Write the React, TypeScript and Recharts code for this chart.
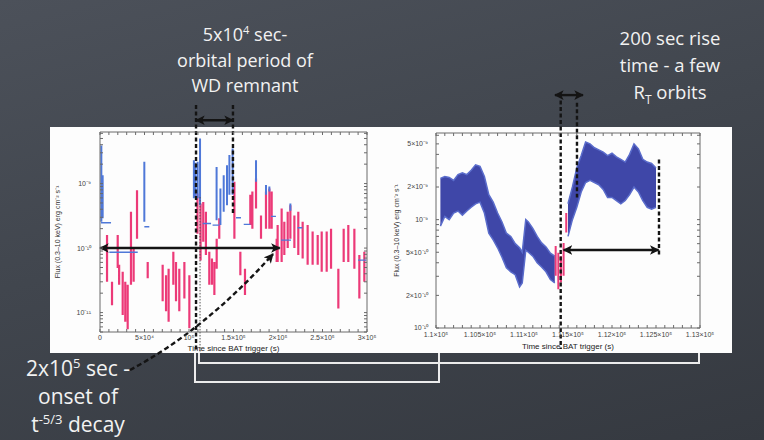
import React from 'react';
import { ComposedChart, Line, Area, XAxis, YAxis, ReferenceLine } from 'recharts';

type Seg = [number, number, number];

// Left panel: long-term XRT light curve. Vertical bars are [t, low, high].
const leftPinkBars: Seg[] = [
  [7900, 3.0e-11, 1.59e-10], [13500, 1.3e-11, 3.0e-11], [19900, 4.9e-11, 1.59e-10],
  [21500, 2.7e-11, 5.5e-11], [25500, 9.2e-12, 4.3e-11], [28400, 7.2e-12, 3.0e-11],
  [31100, 5.5e-12, 2.7e-11], [34800, 2.7e-11, 3.65e-10], [37800, 3.0e-11, 1.0e-10],
  [41600, 1.4e-10, 7.9e-10], [53600, 3.4e-11, 6.1e-11], [70400, 1.5e-11, 5.5e-11],
  [74200, 1.05e-11, 3.8e-11], [77100, 7.2e-12, 4.8e-11], [82400, 2.7e-11, 8.8e-11],
  [85400, 1.5e-11, 6.1e-11], [89100, 1.05e-11, 4.8e-11], [94800, 1.66e-11, 6.1e-11],
  [100400, 5.7e-12, 3.8e-11], [109500, 1.67e-10, 7.0e-10], [113000, 6.4e-11, 4.9e-10],
  [116000, 1.25e-10, 5.2e-10], [119000, 7.8e-11, 3.65e-10], [122800, 2.7e-11, 8.8e-11],
  [125800, 2.7e-11, 6.9e-11], [128500, 1.87e-11, 6.1e-11], [131100, 4.8e-11, 1.4e-10],
  [134000, 1.4e-10, 2.9e-10], [151000, 1.4e-10, 1.07e-9], [157700, 3.8e-11, 8.8e-11],
  [162900, 1.87e-11, 4.8e-11], [168900, 2.27e-10, 6.7e-10], [171200, 2.0e-10, 7.5e-10],
  [175300, 4.1e-10, 1.2e-9], [180900, 1.4e-10, 3.2e-10], [186500, 2.0e-10, 7.5e-10],
  [190300, 2.0e-10, 8.4e-10], [192900, 2.0e-10, 7.5e-10], [198500, 6.1e-11, 1.4e-10],
  [199600, 6.1e-11, 2.27e-10], [204100, 6.1e-11, 4.1e-10], [207100, 7.8e-11, 2.56e-10],
  [210900, 1.0e-10, 3.65e-10], [213900, 1.4e-10, 4.6e-10], [218400, 1.0e-10, 3.2e-10],
  [222800, 7.8e-11, 3.65e-10], [227700, 6.9e-11, 2.56e-10], [233300, 5.5e-11, 2.27e-10],
  [238900, 5.5e-11, 1.8e-10], [244600, 5.5e-11, 1.59e-10], [249100, 4.3e-11, 1.8e-10],
  [254700, 4.3e-11, 1.8e-10], [259600, 4.8e-11, 2.0e-10], [267800, 1.16e-11, 4.8e-11],
  [273800, 6.1e-11, 2.0e-10], [279000, 6.1e-11, 2.27e-10], [285800, 4.8e-11, 2.0e-10],
  [291400, 1.66e-11, 7.8e-11], [297000, 3.0e-11, 8.8e-11],
];

const leftBlueBars: Seg[] = [
  [1500, 2.56e-10, 3.9e-9], [3000, 2.9e-10, 1.35e-9], [49800, 2.56e-10, 2.18e-9],
  [105500, 5.9e-10, 2.3e-9], [107000, 6.2e-10, 2.1e-9], [109700, 5.9e-10, 2.18e-9],
  [112400, 4.6e-10, 5.0e-9], [131000, 2.7e-10, 1.8e-9], [135300, 2.27e-10, 8.4e-10],
  [139000, 3.65e-10, 1.35e-9], [142700, 4.6e-10, 1.93e-9], [145400, 6.7e-10, 2.76e-9],
  [149000, 6.7e-10, 3.5e-9], [175300, 1.07e-9, 2.3e-9], [186500, 6.7e-10, 9.5e-10],
  [190300, 7.5e-10, 9.0e-10], [213900, 3.8e-10, 4.9e-10],
];

// horizontal blue bins: [t start, t end, flux]
const leftBlueBins: Seg[] = [
  [1100, 12400, 2.47e-10], [10500, 42400, 8.6e-11], [49800, 55400, 2.14e-10],
  [115400, 124800, 2.4e-10], [126500, 134000, 2.27e-10], [152800, 158400, 2.95e-10],
  [161500, 168900, 2.33e-10], [192100, 197700, 3.1e-10], [203400, 214600, 1.33e-10],
  [222100, 227300, 2.07e-10], [290000, 299400, 6.5e-11],
];

const leftXTicks = [0, 50000, 100000, 150000, 200000, 250000, 300000];
const leftXLabels = ['0', '5×10⁴', '10⁵', '1.5×10⁵', '2×10⁵', '2.5×10⁵', '3×10⁵'];
const leftYTicks = [1e-11, 1e-10, 1e-9];
const leftYLabels = ['10⁻¹¹', '10⁻¹⁰', '10⁻⁹'];

// Right panel: zoom on the rise, [t, low, high] of the noisy band
const rightBlueEarly: Seg[] = [
  [110050, 8.7e-10, 2.4e-9], [110100, 1.07e-9, 2.5e-9], [110150, 1.0e-9, 2.45e-9],
  [110200, 1.15e-9, 2.3e-9], [110250, 1.2e-9, 2.6e-9], [110300, 1.1e-9, 2.7e-9],
  [110350, 1.2e-9, 2.6e-9], [110400, 1.3e-9, 2.85e-9], [110450, 1.4e-9, 3.2e-9],
  [110500, 1.45e-9, 3.1e-9], [110550, 1.15e-9, 2.5e-9], [110600, 7.5e-10, 1.7e-9],
  [110650, 6.5e-10, 1.45e-9], [110700, 5.5e-10, 1.15e-9], [110750, 4.5e-10, 9.5e-10],
  [110800, 3.6e-10, 7.5e-10], [110850, 3.3e-10, 7.0e-10], [110900, 3.1e-10, 6.0e-10],
  [110950, 2.4e-10, 5.5e-10], [110980, 2.6e-10, 5.0e-10], [111020, 5.2e-10, 1.0e-9],
  [111050, 5.0e-10, 9.5e-10], [111100, 4.6e-10, 8.3e-10], [111150, 4.0e-10, 7.0e-10],
  [111200, 3.65e-10, 6.1e-10], [111250, 3.3e-10, 5.6e-10], [111300, 2.8e-10, 4.9e-10],
  [111350, 2.6e-10, 4.6e-10],
];

const rightBlueLate: Seg[] = [
  [111500, 7.0e-10, 1.4e-9], [111550, 1.0e-9, 2.0e-9], [111600, 1.3e-9, 3.0e-9],
  [111650, 1.8e-9, 3.9e-9], [111700, 2.2e-9, 5.2e-9], [111750, 2.3e-9, 5.0e-9],
  [111800, 2.2e-9, 4.6e-9], [111850, 2.1e-9, 4.4e-9], [111900, 1.9e-9, 4.2e-9],
  [111950, 1.6e-9, 3.9e-9], [112000, 1.6e-9, 4.1e-9], [112050, 1.5e-9, 3.8e-9],
  [112100, 1.4e-9, 3.6e-9], [112150, 1.5e-9, 3.4e-9], [112200, 1.7e-9, 4.0e-9],
  [112250, 2.0e-9, 5.0e-9], [112300, 1.8e-9, 4.5e-9], [112350, 1.5e-9, 3.6e-9],
  [112400, 1.3e-9, 3.4e-9], [112450, 1.25e-9, 3.3e-9], [112500, 1.3e-9, 3.0e-9],
];

const rightPinkBars: Seg[] = [
  [111360, 3.03e-10, 5.7e-10], [111390, 2.28e-10, 4.95e-10], [111420, 2.63e-10, 4.6e-10],
  [111450, 3.03e-10, 6.1e-10], [111480, 7.6e-10, 1.15e-9],
];

const rightXTicks = [110000, 110500, 111000, 111500, 112000, 112500, 113000];
const rightXLabels = ['1.1×10⁵', '1.105×10⁵', '1.11×10⁵', '1.115×10⁵', '1.12×10⁵', '1.125×10⁵', '1.13×10⁵'];
const rightYTicks = [1e-10, 2e-10, 5e-10, 1e-9, 2e-9, 5e-9];
const rightYLabels = ['10⁻¹⁰', '2×10⁻¹⁰', '5×10⁻¹⁰', '10⁻⁹', '2×10⁻⁹', '5×10⁻⁹'];

const PINK = '#ec3a78';
const BLUE = '#4f78d8';
const NAVY = '#3f47a8';
const LIGHT_NAVY = '#5a6ccb';
const INK = '#141414';
const FRAME = '#6a6a6a';
const FONT = '"Liberation Sans", Arial, sans-serif';
const SLIDE_FONT = '"Open Sans", "DejaVu Sans", sans-serif';

const vSegs = (bars: Seg[]) =>
  bars.flatMap(([t, lo, hi]) => [{ t, f: lo }, { t, f: hi }, { t, f: null }]);
const hSegs = (bins: Seg[]) =>
  bins.flatMap(([t0, t1, f]) => [{ t: t0, f }, { t: t1, f }, { t: t1, f: null }]);
const band = (bars: Seg[]) => bars.map(([t, lo, hi]) => ({ t, r: [lo, hi] }));

const logMinors = (lo: number, hi: number) => {
  const out: number[] = [];
  for (let e = Math.floor(Math.log10(lo)); e <= Math.ceil(Math.log10(hi)); e++) {
    for (let m = 1; m <= 9; m++) {
      const v = m * Math.pow(10, e);
      if (v >= lo * 0.999 && v <= hi * 1.001) out.push(v);
    }
  }
  return out;
};
const linMinors = (lo: number, hi: number, step: number) => {
  const out: number[] = [];
  for (let v = lo; v <= hi + 1e-6; v += step) out.push(Math.round(v));
  return out;
};
const fmt = (ticks: number[], labels: string[]) => (v: number) => {
  const i = ticks.findIndex((t) => Math.abs(t - v) <= Math.abs(t) * 1e-6);
  return i < 0 ? '' : labels[i];
};

const noTick = () => <g />;

const dashed = (w: number, dash: string, color = INK) => (p: any) => (
  <line x1={p.x1} y1={p.y1} x2={p.x2} y2={p.y2} stroke={color} strokeWidth={w} strokeDasharray={dash} />
);
const arrow = (p: any) => (
  <line x1={p.x1} y1={p.y1} x2={p.x2} y2={p.y2} stroke={INK} strokeWidth={2.4}
    markerStart="url(#ah)" markerEnd="url(#ah)" />
);
const curvedArrow = (p: any) => {
  const dx = p.x2 - p.x1;
  const dy = p.y2 - p.y1;
  const cx = p.x1 + 0.52 * dx;
  const cy = p.y1 + 0.34 * dy;
  return (
    <path d={`M${p.x1},${p.y1} Q${cx},${cy} ${p.x2},${p.y2}`} fill="none" stroke={INK}
      strokeWidth={2.4} strokeDasharray="5 3" markerEnd="url(#ah)" />
  );
};

const tickStyle = { fontSize: 7, fill: '#444', fontFamily: FONT };
const lineProps = {
  dataKey: 'f', dot: false, activeDot: false, isAnimationActive: false,
  connectNulls: false, legendType: 'none' as const, strokeLinecap: 'butt' as const,
};

function LeftChart() {
  const xDom: [number, number] = [0, 300000];
  const yDom: [number, number] = [5e-12, 6.3e-9];
  const xt = linMinors(0, 300000, 10000);
  const yt = logMinors(yDom[0], yDom[1]);
  return (
    <ComposedChart width={345} height={290} margin={{ top: 31, right: 27, bottom: 36, left: 4 }}>
      <XAxis dataKey="t" type="number" domain={xDom} allowDataOverflow ticks={xt} interval={0}
        tickFormatter={fmt(leftXTicks, leftXLabels)} tickSize={-3} tickMargin={6} height={22}
        axisLine={{ stroke: FRAME }} tickLine={{ stroke: FRAME }} tick={tickStyle}
        label={{ value: 'Time since BAT trigger (s)', position: 'insideBottom', offset: 3, fontSize: 8, fill: '#222', fontFamily: FONT }} />
      <XAxis xAxisId="top" orientation="top" dataKey="t" type="number" domain={xDom} allowDataOverflow
        ticks={xt} interval={0} tick={noTick} tickSize={-3} height={1}
        axisLine={{ stroke: FRAME }} tickLine={{ stroke: FRAME }} />
      <YAxis type="number" scale="log" domain={yDom} allowDataOverflow ticks={yt} interval={0}
        tickFormatter={fmt(leftYTicks, leftYLabels)} tickSize={-3} tickMargin={12} width={46}
        axisLine={{ stroke: FRAME }} tickLine={{ stroke: FRAME }} tick={tickStyle}
        label={{ value: 'Flux (0.3–10 keV) erg cm⁻² s⁻¹', angle: -90, position: 'insideLeft', offset: 4, fontSize: 7, fill: '#333', fontFamily: FONT, style: { textAnchor: 'middle' } }} />
      <YAxis yAxisId="r" orientation="right" type="number" scale="log" domain={yDom} allowDataOverflow
        ticks={yt} interval={0} tick={noTick} tickSize={-3} width={1}
        axisLine={{ stroke: FRAME }} tickLine={{ stroke: FRAME }} />

      <Line {...lineProps} data={vSegs(leftPinkBars)} stroke={PINK} strokeWidth={2.2} />
      <Line {...lineProps} data={vSegs(leftBlueBars)} stroke={BLUE} strokeWidth={2} />
      <Line {...lineProps} data={hSegs(leftBlueBins)} stroke={BLUE} strokeWidth={1.4} />

      <ReferenceLine ifOverflow="visible" segment={[{ x: 107900, y: 1.65e-8 }, { x: 107900, y: 2.44e-12 }]} shape={dashed(2.4, '4 2.5')} />
      <ReferenceLine ifOverflow="visible" segment={[{ x: 112400, y: 6.2e-10 }, { x: 112400, y: 2.36e-12 }]} shape={dashed(1, '1.5 1.5', '#555')} />
      <ReferenceLine ifOverflow="visible" segment={[{ x: 149400, y: 1.65e-8 }, { x: 149400, y: 3.5e-10 }]} shape={dashed(2.4, '4 2.5')} />
      <ReferenceLine ifOverflow="visible" segment={[{ x: 107900, y: 9.6e-9 }, { x: 149400, y: 9.6e-9 }]} shape={arrow} />
      <ReferenceLine ifOverflow="visible" segment={[{ x: 0, y: 1e-10 }, { x: 202000, y: 1e-10 }]} shape={arrow} />
      <ReferenceLine ifOverflow="visible" segment={[{ x: 33700, y: 1.29e-12 }, { x: 194400, y: 8.07e-11 }]} shape={curvedArrow} />
    </ComposedChart>
  );
}

function RightChart() {
  const xDom: [number, number] = [110000, 113000];
  const yDom: [number, number] = [1e-10, 6.3e-9];
  const xt = linMinors(110000, 113000, 100);
  const yt = logMinors(yDom[0], yDom[1]);
  const areaProps = {
    dataKey: 'r', type: 'linear' as const, isAnimationActive: false, dot: false, activeDot: false,
    legendType: 'none' as const, fill: NAVY, fillOpacity: 1, stroke: LIGHT_NAVY, strokeWidth: 1.5,
  };
  return (
    <ComposedChart width={360} height={280} margin={{ top: 52, right: 31, bottom: 8, left: 4 }}>
      <XAxis dataKey="t" type="number" domain={xDom} allowDataOverflow ticks={xt} interval={0}
        tickFormatter={fmt(rightXTicks, rightXLabels)} tickSize={-3} tickMargin={7} height={24}
        axisLine={{ stroke: FRAME }} tickLine={{ stroke: FRAME }} tick={tickStyle}
        label={{ value: 'Time since BAT trigger (s)', position: 'insideBottom', offset: 3, fontSize: 8, fill: '#222', fontFamily: FONT }} />
      <XAxis xAxisId="top" orientation="top" dataKey="t" type="number" domain={xDom} allowDataOverflow
        ticks={xt} interval={0} tick={noTick} tickSize={-3} height={1}
        axisLine={{ stroke: FRAME }} tickLine={{ stroke: FRAME }} />
      <YAxis type="number" scale="log" domain={yDom} allowDataOverflow ticks={yt} interval={0}
        tickFormatter={fmt(rightYTicks, rightYLabels)} tickSize={-3} tickMargin={11} width={60}
        axisLine={{ stroke: FRAME }} tickLine={{ stroke: FRAME }} tick={tickStyle}
        label={{ value: 'Flux (0.3–10 keV) erg cm⁻² s⁻¹', angle: -90, position: 'insideLeft', offset: 21, fontSize: 7, fill: '#333', fontFamily: FONT, style: { textAnchor: 'middle' } }} />
      <YAxis yAxisId="r" orientation="right" type="number" scale="log" domain={yDom} allowDataOverflow
        ticks={yt} interval={0} tick={noTick} tickSize={-3} width={1}
        axisLine={{ stroke: FRAME }} tickLine={{ stroke: FRAME }} />

      <Area {...areaProps} data={band(rightBlueEarly)} />
      <Area {...areaProps} data={band(rightBlueLate)} />
      <Line {...lineProps} data={vSegs(rightPinkBars)} stroke={PINK} strokeWidth={2} />

      <ReferenceLine ifOverflow="visible" segment={[{ x: 111417, y: 1.26e-8 }, { x: 111417, y: 6.4e-11 }]} shape={dashed(2.4, '4 2.5')} />
      <ReferenceLine ifOverflow="visible" segment={[{ x: 111602, y: 1.2e-8 }, { x: 111602, y: 1.6e-9 }]} shape={dashed(2.4, '4 2.5')} />
      <ReferenceLine ifOverflow="visible" segment={[{ x: 112534, y: 3.58e-9 }, { x: 112534, y: 4.56e-10 }]} shape={dashed(2.4, '4 2.5')} />
      <ReferenceLine ifOverflow="visible" segment={[{ x: 111352, y: 1.41e-8 }, { x: 111670, y: 1.41e-8 }]} shape={arrow} />
      <ReferenceLine ifOverflow="visible" segment={[{ x: 111450, y: 5.24e-10 }, { x: 112530, y: 5.24e-10 }]} shape={arrow} />
    </ComposedChart>
  );
}

const note: React.CSSProperties = {
  position: 'absolute', color: '#f2f2f2', fontFamily: SLIDE_FONT, textAlign: 'center', whiteSpace: 'nowrap',
};
const sup = (size: number): React.CSSProperties => ({ fontSize: size, verticalAlign: 'super', lineHeight: 0 });

export default function App() {
  return (
    <div style={{
      position: 'absolute', left: 0, top: 0, width: 764, height: 440, overflow: 'hidden',
      background: 'linear-gradient(165deg, #4c515a 0%, #41464e 45%, #353940 100%)',
    }}>
      <svg width={0} height={0} style={{ position: 'absolute' }}>
        <defs>
          <marker id="ah" viewBox="0 0 10 10" refX="9" refY="5" markerWidth="4.2" markerHeight="4"
            orient="auto-start-reverse">
            <path d="M0,0 L10,5 L0,10 L2.5,5 z" fill={INK} />
          </marker>
        </defs>
      </svg>

      <div style={{ position: 'absolute', left: 50, top: 127, width: 682, height: 226, background: '#fdfdfd' }} />

      <svg width={764} height={440} style={{ position: 'absolute', left: 0, top: 0 }}>
        <polyline points="195,353 195,382 439,382 439,353" fill="none" stroke="#ececec" strokeWidth={2} />
        <polyline points="199,353 199,363 699,363 699,353" fill="none" stroke="#ececec" strokeWidth={2} />
      </svg>

      <div style={{ position: 'absolute', left: 50, top: 100 }}>
        <LeftChart />
      </div>
      <div style={{ position: 'absolute', left: 372, top: 80 }}>
        <RightChart />
      </div>

      <div style={{ ...note, left: 145, top: 22, width: 200, fontSize: 18, lineHeight: '25.5px' }}>
        <div>5x10<span style={sup(11)}>4</span> sec-</div>
        <div>orbital period of</div>
        <div>WD remnant</div>
      </div>
      <div style={{ ...note, left: 570, top: 24, width: 200, fontSize: 18.5, lineHeight: '27px' }}>
        <div>200 sec rise</div>
        <div>time - a few</div>
        <div>R<span style={{ fontSize: 12, verticalAlign: 'sub', lineHeight: 0 }}>T</span> orbits</div>
      </div>
      <div style={{ ...note, left: 8, top: 354, width: 140, fontSize: 21, lineHeight: '28px' }}>
        <div>2x10<span style={sup(13)}>5</span> sec -</div>
        <div>onset of</div>
        <div>t<span style={sup(13)}>-5/3</span> decay</div>
      </div>
    </div>
  );
}
